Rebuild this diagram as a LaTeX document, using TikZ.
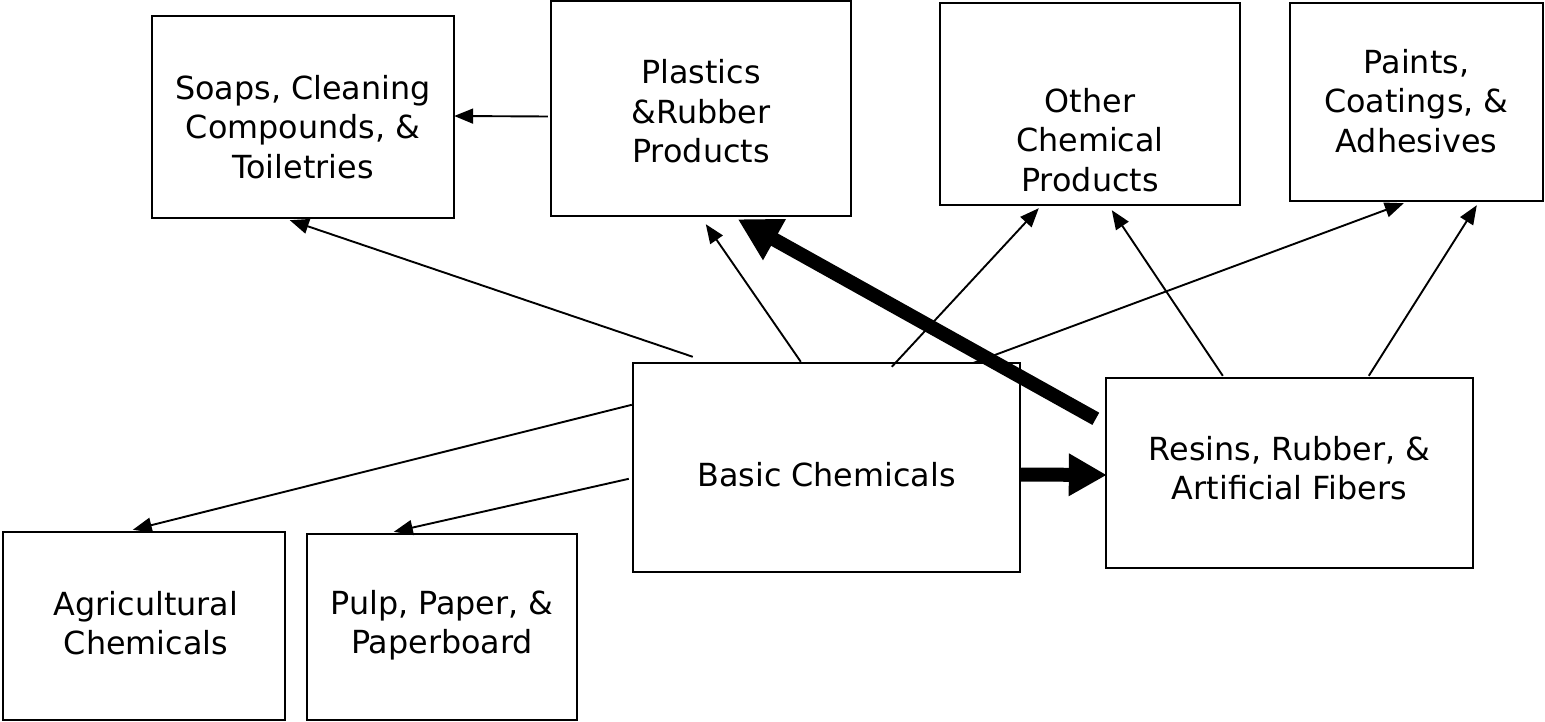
\documentclass[tikz,border=0pt]{standalone}
\usepackage{fontspec}
\setmainfont{DejaVu Sans}
\usetikzlibrary{arrows.meta,calc}
\begin{document}
\begin{tikzpicture}[x=1pt,y=-1pt,
  box/.style={draw, line width=2.4pt, rectangle, inner sep=0pt},
  txt/.style={align=center, inner sep=0pt, font=\fontsize{31.8}{39.5}\selectfont},
  thinarr/.style={line width=1.9pt, -{Triangle[length=19pt,width=15pt]}},
  thickarr/.style={line width=14pt, -{Triangle[length=38pt,width=40pt]}}]
\useasboundingbox (0,0) rectangle (1545,722);
\fill[white] (0,0) rectangle (1545,722);

% boxes
\node[box, minimum width=302pt, minimum height=202pt] (soaps) at (303,117) {};
\node[box, minimum width=300pt, minimum height=215pt] (plastics) at (701,108.5) {};
\node[box, minimum width=300pt, minimum height=202pt] (other) at (1090,104) {};
\node[box, minimum width=253pt, minimum height=198pt] (paints) at (1416.5,102) {};
\node[box, minimum width=387pt, minimum height=209pt] (basic) at (826.5,467.5) {};
\node[box, minimum width=367pt, minimum height=190pt] (resins) at (1289.5,473) {};
\node[box, minimum width=282pt, minimum height=188pt] (agri) at (144,626) {};
\node[box, minimum width=270pt, minimum height=186pt] (pulp) at (442,627) {};

% texts
\node[txt] (soapsT) at ($(soaps.center)+(0,10)$) {Soaps, Cleaning\\Compounds, \&\\Toiletries};
\node[txt] (plasticsT) at ($(plastics.center)+(0,3)$) {Plastics\\\&Rubber\\Products};
\node[txt] (otherT) at ($(other.center)+(0,36)$) {Other\\Chemical\\Products};
\node[txt] (paintsT) at ($(paints.center)+(0,-1)$) {Paints,\\Coatings, \&\\Adhesives};
\node[txt] (basicT) at ($(basic.center)+(0,7)$) {Basic Chemicals};
\node[txt] (resinsT) at ($(resins.center)+(0,-5)$) {Resins, Rubber, \&\\Artificial Fibers};
\node[txt] (agriT) at ($(agri.center)+(2,-3)$) {Agricultural\\Chemicals};
\node[txt] (pulpT) at ($(pulp.center)+(0,-2)$) {Pulp, Paper, \&\\Paperboard};

% thin connectors
\draw[thinarr] ($(plastics.west)+(-2,8)$) -- ($(soaps.east)+(-1,-1)$);
\draw[thinarr] ($(basic.north west)+(61,-5)$) -- ($(soaps.south west)+(139,1)$);
\draw[thinarr] ($(basic.north west)+(169,0)$) -- ($(plastics.south west)+(156,7)$);
\draw[thinarr] ($(basic.north west)+(260,5)$) -- ($(other.south west)+(100,2)$);
\draw[thinarr] ($(basic.north west)+(342,1)$) -- ($(paints.south west)+(115,1)$);
\draw[thinarr] ($(resins.north west)+(118,-1)$) -- ($(other.south west)+(173,4)$);
\draw[thinarr] ($(resins.north west)+(264,-1)$) -- ($(paints.south west)+(188,3)$);
\draw[thinarr] ($(basic.north west)+(0,43)$) -- ($(agri.north west)+(131,-1)$);
\draw[thinarr] ($(basic.north west)+(-3,117)$) -- ($(pulp.north west)+(88,-1)$);

% thick connectors
\draw[thickarr] ($(basic.east)+(0,7)$) -- ($(resins.west)+(2,2)$);
\draw[thickarr, -{Triangle[length=42pt,width=44pt]}] ($(resins.north west)+(-9,42)$) -- ($(plastics.south west)+(188,2)$);
\end{tikzpicture}
\end{document}
